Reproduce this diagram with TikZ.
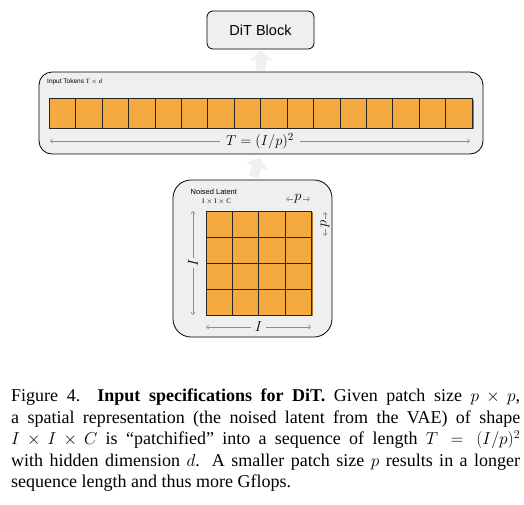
\documentclass[tikz,border=0pt]{standalone}
\usepackage{fontspec}
\setmainfont{Liberation Serif}
\newfontfamily\diagsans{Liberation Sans}
\usetikzlibrary{arrows.meta}
\definecolor{boxbg}{HTML}{EFEFEF}
\definecolor{tokorange}{HTML}{F5AA3F}
\definecolor{tokdark}{HTML}{B87A20}
\definecolor{fatgray}{HTML}{F0F0F0}
\definecolor{dimgray}{HTML}{8C8C8C}
\tikzset{
  panel/.style={draw=black, line width=0.8pt, fill=boxbg},
  cell/.style={draw=black!85, line width=0.5pt, fill=tokorange, inner sep=0pt, outer sep=0pt},
  fatarrow/.style={draw=fatgray, line width=10pt, -{Triangle[width=22pt,length=10pt]}},
  dimline/.style={draw=dimgray, line width=0.6pt, {Straight Barb[length=2.2pt,width=4pt]}-{Straight Barb[length=2.2pt,width=4pt]}},
  dimlabel/.style={fill=boxbg, inner sep=1.5pt},
  smalltxt/.style={font=\diagsans\fontsize{6.5}{7}\selectfont, inner sep=0pt},
  capline/.style={anchor=base west, inner sep=0pt, font=\fontsize{18}{21}\selectfont}
}
\begin{document}
\begin{tikzpicture}[x=1pt,y=-1pt]
\useasboundingbox (0,0) rectangle (524,504);

% boxes
\node[panel, rounded corners=6pt, minimum width=107pt, minimum height=38pt, font=\diagsans\fontsize{14.5}{16}\selectfont] (dit) at (260.5,30) {DiT Block};
\node[panel, rounded corners=13pt, minimum width=444pt, minimum height=82pt, inner sep=0pt] (tok) at (261,113) {};
\node[panel, rounded corners=18pt, minimum width=159pt, minimum height=157pt, inner sep=0pt] (lat) at (252.5,258.5) {};

% fat arrows
\draw[fatarrow, shorten <=1pt, shorten >=1pt] (tok.north) -- (dit.south);
\draw[fatarrow, shorten <=3pt, shorten >=3pt] (lat.north) -- (tok.south);

% tokens
\node[smalltxt, anchor=west] (toklbl) at (47,82) {Input Tokens \textrm{T $\times$ d}};
\fill[tokdark] (472,99.5) rectangle (474.2,129);
\foreach \i in {0,...,15} {
  \node[cell, minimum width=26.44pt, minimum height=30pt] (t\i) at ({49+26.44*\i+13.22},113) {};
}
\coordinate (tl) at (50,141);
\coordinate (tr) at (470,141);
\draw[dimline] (tl) -- (tr);
\node[dimlabel, inner xsep=6pt, font=\fontsize{15}{17}\selectfont] (tlab) at (260,141) {$T=(I/p)^2$};

% latent
\node[font=\diagsans\fontsize{7.5}{8}\selectfont, inner sep=0pt, anchor=west] (latlbl) at (190.5,191.5) {Noised Latent};
\node[font=\fontsize{7}{8}\selectfont, inner sep=0pt, anchor=west] (latdim) at (202,202) {I $\times$ I $\times$ C};
\fill[tokdark] (311,212) rectangle (313,316);
\foreach \r in {0,...,3} {
  \foreach \c in {0,...,3} {
    \node[cell, minimum width=26.25pt, minimum height=26pt] (g\r\c) at ({206+26.25*\c+13.125},{211+26*\r+13}) {};
  }
}
% dimension arrows
\coordinate (la) at (193,211);
\coordinate (lb) at (193,315);
\draw[dimline] (la) -- (lb);
\node[dimlabel, inner ysep=4pt, rotate=90, font=\fontsize{15}{17}\selectfont] (ilab) at (193,263) {$I$};
\coordinate (ba) at (206,327);
\coordinate (bb) at (311,327);
\draw[dimline] (ba) -- (bb);
\node[dimlabel, inner xsep=4pt, font=\fontsize{15}{17}\selectfont] (iblab) at (258.5,327) {$I$};
\coordinate (pa) at (286,199);
\coordinate (pb) at (310,199);
\draw[dimline] (pa) -- (pb);
\node[dimlabel, font=\fontsize{14}{16}\selectfont] (ptlab) at (298,199) {$p$};
\coordinate (qa) at (325,212);
\coordinate (qb) at (325,236);
\draw[dimline] (qa) -- (qb);
\node[dimlabel, rotate=90, font=\fontsize{14}{16}\selectfont] (prlab) at (325,224) {$p$};

% caption
\node[capline] (c1) at (11,401.5) {\makebox[509pt][s]{Figure 4.\ \ \textbf{Input specifications for DiT.} Given patch size $p \times p$,}};
\node[capline] (c2) at (11,423) {\makebox[509pt][s]{a spatial representation (the noised latent from the VAE) of shape}};
\node[capline] (c3) at (11,444.5) {\makebox[509pt][s]{$I \times I \times C$ is ``patchified'' into a sequence of length $T = (I/p)^2$}};
\node[capline] (c4) at (11,466) {\makebox[509pt][s]{with hidden dimension $d$. A smaller patch size $p$ results in a longer}};
\node[capline] (c5) at (11,487.5) {sequence length and thus more Gflops.};
\end{tikzpicture}
\end{document}
